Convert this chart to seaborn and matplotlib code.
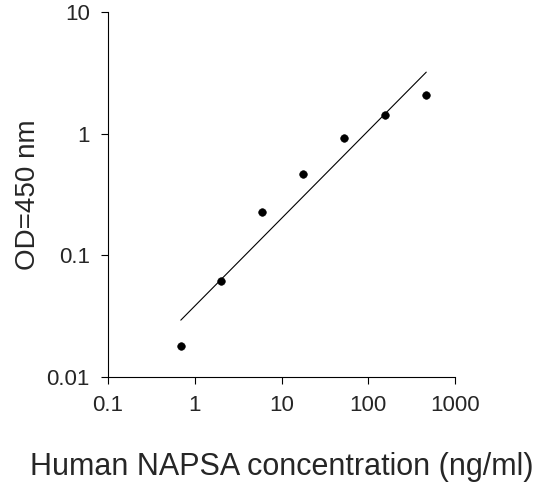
import numpy as np
import matplotlib
matplotlib.use("Agg")
import matplotlib.pyplot as plt
import seaborn as sns

conc = [0.69, 2.0, 6.0, 17.8, 52.5, 156, 465]
od = [0.018, 0.0615, 0.227, 0.466, 0.92, 1.42, 2.07]
fit_x = [0.69, 465]
fit_y = [0.0294, 3.2]

sns.set_style("ticks")
plt.rcParams['font.family'] = ['Liberation Sans', 'DejaVu Sans']

fig = plt.figure(figsize=(5.51, 4.95), dpi=100)
ax = fig.add_axes([0.196, 0.238, 0.63, 0.738])

# power-law fit line through log-space endpoints
b = (np.log10(fit_y[1]) - np.log10(fit_y[0])) / (np.log10(fit_x[1]) - np.log10(fit_x[0]))
xs = np.logspace(np.log10(fit_x[0]), np.log10(fit_x[1]), 50)
ys = fit_y[0] * (xs / fit_x[0]) ** b
sns.lineplot(x=xs, y=ys, ax=ax, color="black", linewidth=0.8)
sns.scatterplot(x=conc, y=od, ax=ax, color="black", s=30, edgecolor="black")

ax.set_xscale("log")
ax.set_yscale("log")
ax.set_xlim(0.1, 1000)
ax.set_ylim(0.01, 10)
ax.set_xticks([0.1, 1, 10, 100, 1000])
ax.set_xticklabels(["0.1", "1", "10", "100", "1000"])
ax.set_yticks([0.01, 0.1, 1, 10])
ax.set_yticklabels(["0.01", "0.1", "1", "10"])
ax.minorticks_off()
ax.tick_params(labelsize=16, direction="out", length=5, color="black", pad=8)
for s in ["left", "bottom"]:
    ax.spines[s].set_color("black")
sns.despine(ax=ax)
ax.set_xlabel("Human NAPSA concentration (ng/ml)", fontsize=22, labelpad=26)
ax.set_ylabel("OD=450 nm", fontsize=20, labelpad=4)

fig.savefig("out.png", dpi=100)
